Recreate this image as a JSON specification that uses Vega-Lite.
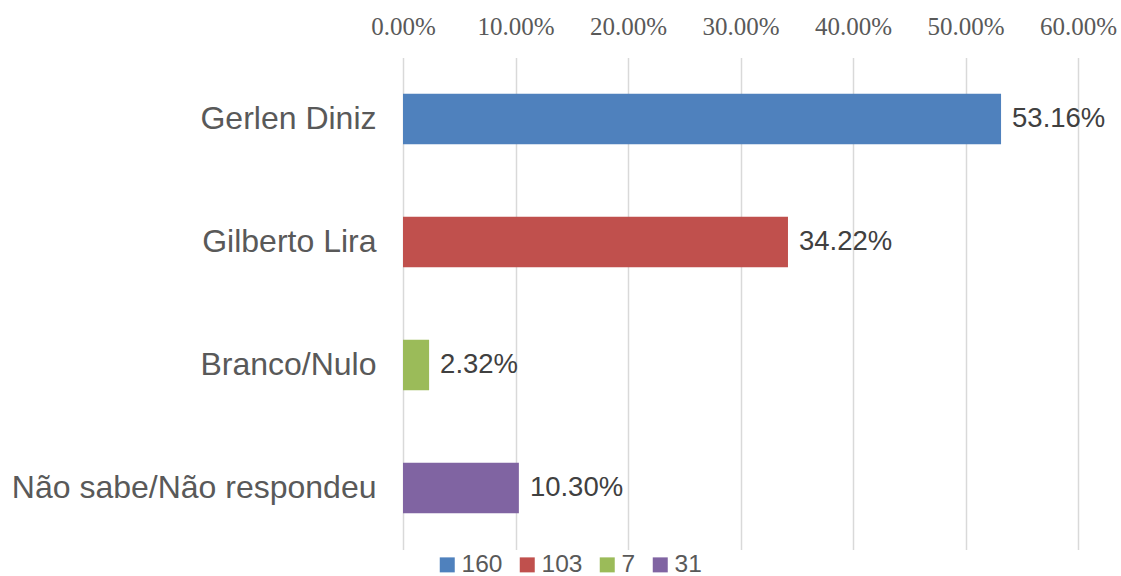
{
  "$schema": "https://vega.github.io/schema/vega-lite/v6.json",
  "width": 675,
  "height": 492,
  "autosize": "none",
  "padding": {"left": 403, "top": 57.5, "right": 43, "bottom": 26.5},
  "background": "white",
  "data": {
    "values": [
      {"cand": "Gerlen Diniz", "pct": 0.5316, "n": "160"},
      {"cand": "Gilberto Lira", "pct": 0.3422, "n": "103"},
      {"cand": "Branco/Nulo", "pct": 0.0232, "n": "7"},
      {"cand": "Não sabe/Não respondeu", "pct": 0.1030, "n": "31"}
    ]
  },
  "encoding": {
    "y": {
      "field": "cand",
      "type": "nominal",
      "sort": null,
      "scale": {"paddingInner": 0.59, "paddingOuter": 0.295},
      "axis": {
        "title": null,
        "domain": false,
        "ticks": false,
        "labelPadding": 27,
        "labelFont": "Liberation Sans",
        "labelFontSize": 32,
        "labelColor": "#595959",
        "labelLimit": 500
      }
    },
    "x": {
      "field": "pct",
      "type": "quantitative",
      "scale": {"domain": [0, 0.6], "nice": false},
      "axis": {
        "orient": "top",
        "title": null,
        "format": ".2%",
        "values": [0, 0.1, 0.2, 0.3, 0.4, 0.5, 0.6],
        "domain": false,
        "ticks": false,
        "grid": true,
        "gridColor": "#d9d9d9",
        "gridWidth": 1.5,
        "labelPadding": 18,
        "labelFont": "Liberation Serif",
        "labelFontSize": 25,
        "labelColor": "#595959",
        "labelFlush": false
      }
    }
  },
  "layer": [
    {
      "mark": {"type": "bar"},
      "encoding": {
        "color": {
          "field": "n",
          "type": "nominal",
          "scale": {
            "domain": ["160", "103", "7", "31"],
            "range": ["#4F81BD", "#C0504D", "#9BBB59", "#8064A2"]
          },
          "legend": {
            "title": null,
            "orient": "none",
            "direction": "horizontal",
            "legendX": 32,
            "legendY": 495,
            "padding": 0,
            "symbolType": "square",
            "symbolSize": 225,
            "symbolStrokeWidth": 0,
            "symbolOpacity": 1,
            "labelFont": "Liberation Sans",
            "labelFontSize": 24.5,
            "labelColor": "#595959",
            "labelOffset": 2,
            "columnPadding": 12
          }
        }
      }
    },
    {
      "mark": {
        "type": "text",
        "align": "left",
        "baseline": "middle",
        "dx": 11,
        "font": "Liberation Sans",
        "fontSize": 27.5,
        "color": "#404040"
      },
      "encoding": {
        "text": {"field": "pct", "type": "quantitative", "format": ".2%"}
      }
    }
  ],
  "config": {"view": {"stroke": null}}
}
